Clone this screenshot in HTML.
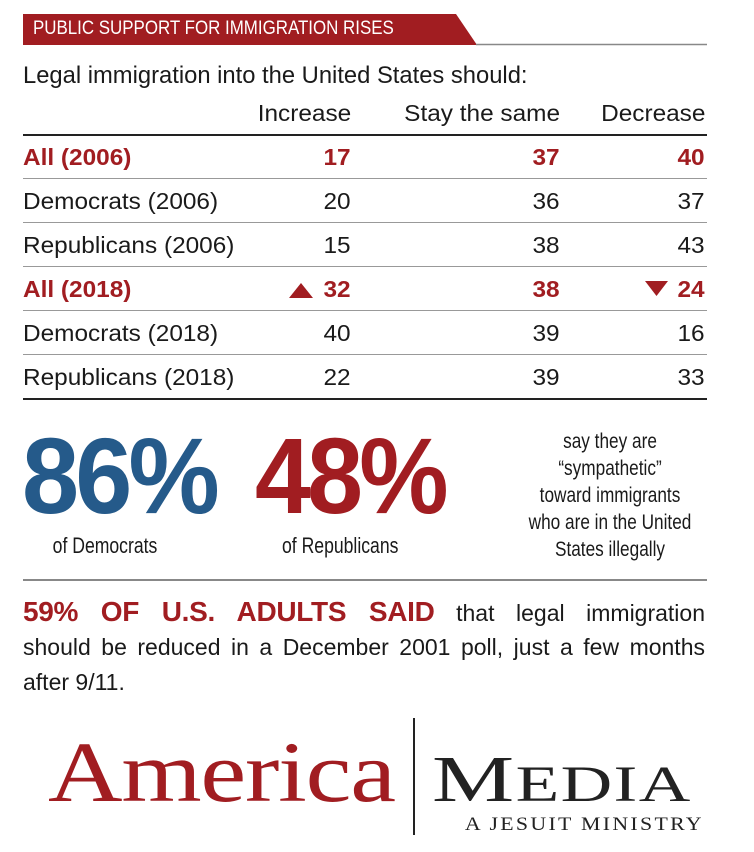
<!DOCTYPE html>
<html><head><meta charset="utf-8"><style>
body{margin:0;width:754px;height:852px;background:#fff;position:relative;overflow:hidden;font-family:"Liberation Sans",sans-serif;color:#1a1a1a}
.a{position:absolute;white-space:nowrap}
.l{transform-origin:left center}
.r{transform-origin:right center;text-align:right}
.c{transform-origin:center center;text-align:center}
.row{font-size:23px;line-height:26px;transform:scaleX(1.06)}
.red{color:#a11d21}
.hr{position:absolute;left:23px;width:684px}
.j{position:absolute;left:23px;width:682px;font-size:23px;line-height:30px;text-align:justify;text-align-last:justify;white-space:nowrap}
</style></head><body>
<svg class="a" style="left:0;top:0" width="754" height="60">
<polygon points="23,14 456,14 477,45 23,45" fill="#a11d21"/>
<line x1="476" y1="44.5" x2="707" y2="44.5" stroke="#888" stroke-width="1.5"/>
</svg>
<div class="a l" style="left:33px;top:17px;font-size:19px;line-height:24px;color:#fff;transform:scaleX(.89)">PUBLIC SUPPORT FOR IMMIGRATION RISES</div>
<div class="a l" style="left:23px;top:61px;font-size:24px;line-height:30px;transform:scaleX(.99)">Legal immigration into the United States should:</div>

<div class="a r row" style="right:403px;top:100px">Increase</div>
<div class="a r row" style="right:194px;top:100px">Stay the same</div>
<div class="a r row" style="right:49px;top:100px">Decrease</div>

<div class="hr" style="top:134px;height:2px;background:#222"></div>
<div class="hr" style="top:178px;height:1px;background:#999"></div>
<div class="hr" style="top:222px;height:1px;background:#999"></div>
<div class="hr" style="top:266px;height:1px;background:#999"></div>
<div class="hr" style="top:310px;height:1px;background:#999"></div>
<div class="hr" style="top:354px;height:1px;background:#999"></div>
<div class="hr" style="top:398px;height:2px;background:#222"></div>

<div id="rows"></div>
<script>
const labels=["All (2006)","Democrats (2006)","Republicans (2006)","All (2018)","Democrats (2018)","Republicans (2018)"];
const incVals=[17,20,15,32,40,22];
const sameVals=[37,36,38,38,39,39];
const decVals=[40,37,43,24,16,33];
const highlight=[true,false,false,true,false,false];
const host=document.getElementById('rows');
function cell(txt,cls,style,name,bold,red){
  const d=document.createElement('div');
  d.className='a row '+cls+(red?' red':'');
  d.setAttribute('style',style+(bold?';font-weight:bold':''));
  d.textContent=txt;
  
  
  host.appendChild(d);
}
labels.forEach((lab,i)=>{
  const top=144+i*44;
  const h=highlight[i];
  cell(lab,'l','left:23px;top:'+top+'px','row-label',h,h);
  cell(String(incVals[i]),'r','right:403px;top:'+top+'px','increase-value',h,h);
  cell(String(sameVals[i]),'r','right:194px;top:'+top+'px','same-value',h,h);
  cell(String(decVals[i]),'r','right:49px;top:'+top+'px','decrease-value',h,h);
});
</script>
<svg class="a" style="left:0;top:270px" width="754" height="40">
<polygon points="289,28 301,13 313,28" fill="#a11d21"/>
<polygon points="645,11 668,11 656.5,26" fill="#a11d21"/>
</svg>

<div class="a l" style="left:22px;top:416px;font-size:108px;line-height:120px;font-weight:bold;color:#255a8a;transform:scaleX(.95);letter-spacing:-4px">86%</div>
<div class="a c" style="left:35px;width:140px;top:533px;font-size:22px;line-height:26px;transform:scaleX(.8)">of Democrats</div>
<div class="a l" style="left:255px;top:416px;font-size:108px;line-height:120px;font-weight:bold;color:#a11d21;transform:scaleX(.93);letter-spacing:-4px">48%</div>
<div class="a c" style="left:268px;width:140px;top:533px;font-size:22px;line-height:26px;transform:scaleX(.8)">of Republicans</div>
<div class="a c" style="left:510px;width:200px;top:428px;font-size:21px;line-height:27px;transform:scaleX(.82)">say they are<br>“sympathetic”<br>toward immigrants<br>who are in the United<br>States illegally</div>

<div class="hr" style="top:579px;height:2px;background:#888"></div>
<div>
<div class="j" style="top:597px"><span class="red" style="font-weight:bold;font-size:28px;letter-spacing:-.3px">59% OF U.S. ADULTS SAID</span> that legal immigration</div>
<div class="j" style="top:632px">should be reduced in a December 2001 poll, just a few months</div>
<div class="a l" style="left:23px;top:667px;font-size:23px;line-height:30px">after 9/11.</div>
</div>

<div class="a l" style="left:48px;top:722px;font-family:'Liberation Serif',serif;font-size:86px;line-height:100px;color:#a11d21;letter-spacing:-1px;transform:scaleX(1.2)">America</div>
<div class="a" style="left:413px;top:718px;width:2px;height:117px;background:#222"></div>
<div class="a l" style="left:432px;top:745px;font-family:'Liberation Serif',serif;font-size:66px;line-height:70px;color:#222;transform:scaleX(1.4);letter-spacing:1px">M<span style="font-size:51px">EDIA</span></div>
<div class="a r" style="right:50px;top:814px;font-family:'Liberation Serif',serif;font-size:19px;line-height:22px;color:#222;letter-spacing:2px;transform:scaleX(1.15)">A JESUIT MINISTRY</div>
</body></html>
